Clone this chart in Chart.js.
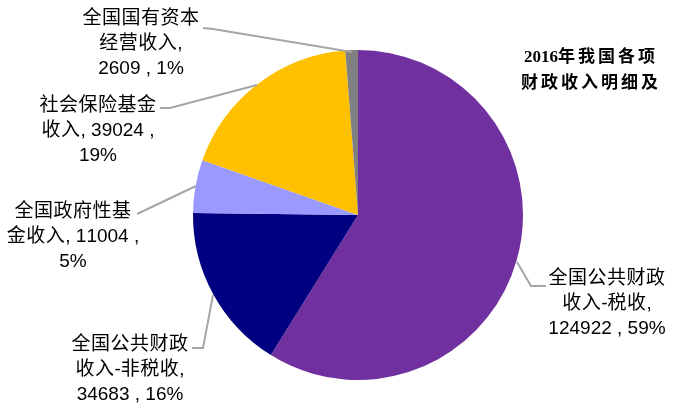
<!DOCTYPE html>
<html>
<head>
<meta charset="utf-8">
<script src="https://cdn.jsdelivr.net/npm/chart.js@4"></script>
<style>
  html, body { margin: 0; padding: 0; background: #fff; }
  #wrap { width: 679px; height: 411px; position: relative; }
</style>
</head>
<body>
<div id="wrap"><canvas id="revenueChart"></canvas></div>
<script>
// 2016 fiscal revenue breakdown (100 million yuan)
const categories = ['全国公共财政收入-税收', '全国公共财政收入-非税收', '全国政府性基金收入', '社会保险基金收入', '全国国有资本经营收入'];
const values = [124922, 34683, 11004, 39024, 2609];
const percents = ['59%', '16%', '5%', '19%', '1%'];
const colors = ['#7030A0', '#000080', '#9999FF', '#FFC000', '#808080'];

// label text lines, positions and leader lines (layout only)
const labelLayout = [
  { lines: ['全国公共财政', '收入-税收,', values[0] + ' , ' + percents[0]], x: 607, y: 279,
    leader: [[517, 262], [531, 286], [546, 286]] },
  { lines: ['全国公共财政', '收入-非税收,', values[1] + ' , ' + percents[1]], x: 130, y: 345,
    leader: [[213, 295], [203, 348], [192, 348]] },
  { lines: ['全国政府性基', '金收入, ' + values[2] + ' ,', percents[2]], x: 73, y: 212,
    leader: [[196, 186], [137, 214]] },
  { lines: ['社会保险基金', '收入, ' + values[3] + ' ,', percents[3]], x: 98, y: 106,
    leader: [[257, 85], [170, 108], [160, 108]] },
  { lines: ['全国国有资本', '经营收入,', values[4] + ' , ' + percents[4]], x: 141, y: 19,
    leader: [[352, 52], [213, 29], [203, 28]] }
];

// draw text centred at x, with extra spacing after CJK characters only
function spacedText(c, text, x, y, gap) {
  const isCJK = ch => /[\u3400-\u9fff]/.test(ch);
  const widths = [...text].map(ch => c.measureText(ch).width + (isCJK(ch) ? gap : 0));
  const total = widths.reduce((a, b) => a + b, 0);
  let cx = x - total / 2;
  c.textAlign = 'left';
  [...text].forEach((ch, i) => {
    c.fillText(ch, cx, y);
    cx += widths[i];
  });
}

const labelPlugin = {
  id: 'sliceLabels',
  afterDraw(chart) {
    const c = chart.ctx;
    c.save();
    c.strokeStyle = '#A6A6A6';
    c.lineWidth = 2;
    labelLayout.forEach(l => {
      c.beginPath();
      l.leader.forEach((p, i) => i ? c.lineTo(p[0], p[1]) : c.moveTo(p[0], p[1]));
      c.stroke();
    });
    c.fillStyle = '#000';
    c.textBaseline = 'middle';
    c.font = '19px "Liberation Sans", "Noto Sans CJK SC", sans-serif';
    labelLayout.forEach(l => {
      l.lines.forEach((t, i) => spacedText(c, t, l.x, l.y + i * 25, 0.5));
    });
    // title
    c.font = 'bold 17px "Liberation Serif", "Noto Sans CJK SC", serif';
    spacedText(c, '2016年我国各项', 591, 58, 3);
    spacedText(c, '财政收入明细及', 591, 84, 3);
    c.restore();
  }
};

const ctx = document.getElementById('revenueChart').getContext('2d');
const revenueChart = new Chart(ctx, {
  type: 'pie',
  data: {
    labels: categories,
    datasets: [{
      data: values,
      backgroundColor: colors,
      borderWidth: 0
    }]
  },
  options: {
    responsive: true,
    maintainAspectRatio: false,
    animation: false,
    layout: { padding: { top: 50, bottom: 31, left: 193, right: 156 } },
    plugins: {
      legend: { display: false },
      tooltip: { enabled: false }
    }
  },
  plugins: [labelPlugin]
});
</script>
</body>
</html>
